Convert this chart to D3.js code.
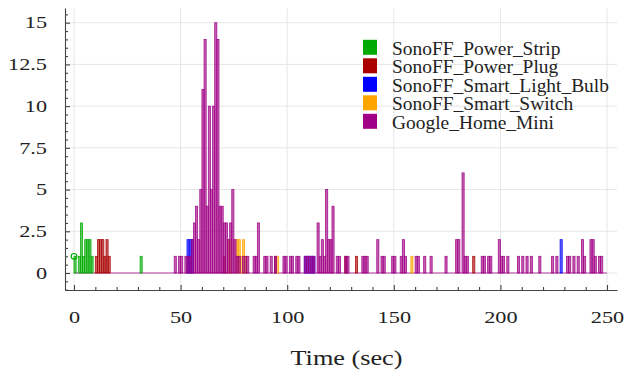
<!DOCTYPE html>
<html>
<head>
<meta charset="utf-8">
<script src="https://cdn.jsdelivr.net/npm/d3@7"></script>
<style>
  body { margin: 0; background: #fff; }
  svg { display: block; }
  text { font-family: "Liberation Serif", "Times New Roman", serif; fill: #222; }
</style>
</head>
<body>
<div id="chart"></div>
<script>
// devices (legend order)
const deviceNames = ["SonoFF_Power_Strip", "SonoFF_Power_Plug", "SonoFF_Smart_Light_Bulb", "SonoFF_Smart_Switch", "Google_Home_Mini"];
const deviceColors = ["#00aa00", "#aa0000", "#0000ff", "#ffa500", "#a00085"];

// packets per 1 s bin
const stripTimes  = [0, 2, 3, 4, 5, 6, 7, 8, 31];
const stripCounts = [1, 1, 3, 1, 2, 2, 2, 1, 1];

const plugTimes  = [10, 11, 12, 13, 14, 15, 16, 70, 80, 94, 127, 132, 187];
const plugCounts = [1, 2, 2, 2, 1, 2, 1, 1, 1, 1, 1, 1, 1];

const bulbTimes  = [53, 54, 55, 108, 109, 110, 111, 112, 228];
const bulbCounts = [2, 2, 2, 1, 1, 1, 1, 1, 2];

const switchTimes  = [72, 73, 76, 77, 78, 79, 95, 158];
const switchCounts = [2, 2, 2, 2, 1, 2, 1, 1];

const homeTimes = [47, 49, 50, 52, 53, 54, 55, 56, 57, 58, 59, 60, 61, 62, 63, 64, 65, 66, 67, 68, 69, 70, 71, 72, 73, 74, 75, 76, 77, 79, 81,
  84, 85, 86, 89, 90, 92, 94, 98, 99, 101, 102, 104, 105, 108, 109, 110, 111, 112, 114, 115, 116, 117, 118, 119, 120, 121, 123, 124,
  127, 128, 135, 136, 137, 142, 144, 145, 149, 150, 153, 154, 155, 160, 161, 164, 167, 174, 179, 180, 182, 183, 184, 191, 192, 194, 195,
  199, 200, 201, 203, 208, 210, 212, 214, 218, 224, 226, 231, 232, 234, 236, 238, 239, 242, 243, 244, 246, 247];
const homeCounts = [1, 1, 1, 1, 1, 1, 2, 3, 4, 2, 5, 11, 14, 4, 10, 5, 10, 15, 14, 4, 4, 3, 3, 2, 3, 5, 2, 1, 1, 1, 1,
  1, 1, 3, 1, 1, 1, 1, 1, 1, 1, 1, 1, 1, 1, 1, 1, 1, 1, 3, 1, 2, 1, 5, 2, 2, 4, 1, 1,
  1, 1, 1, 1, 1, 2, 1, 1, 1, 1, 1, 2, 1, 1, 1, 1, 1, 1, 2, 2, 6, 1, 1, 1, 1, 1, 1,
  2, 1, 1, 1, 1, 1, 1, 1, 1, 1, 1, 1, 1, 1, 1, 2, 1, 2, 2, 1, 1, 1];

// the lone point marker at the start
const markerTimes = [0];
const markerValues = [1];

const xTicks = [0, 50, 100, 150, 200, 250];
const xTickLabels = ["0", "50", "100", "150", "200", "250"];
const yTicks = [0, 2.5, 5, 7.5, 10, 12.5, 15];
const yTickLabels = ["0", "2.5", "5", "7.5", "10", "12.5", "15"];
const xTitle = "Time (sec)";

const seriesTimes = [stripTimes, plugTimes, bulbTimes, switchTimes, homeTimes];
const seriesCounts = [stripCounts, plugCounts, bulbCounts, switchCounts, homeCounts];

const width = 626, height = 380;
const binWidth = 1;

const svg = d3.select("#chart").append("svg")
  .attr("width", width)
  .attr("height", height);

// scales
const x = d3.scaleLinear().domain([0, 250]).range([74, 607]);
const y = d3.scaleLinear().domain([0, 15]).range([273, 22.7]);

// axis frame sits a bit outside the data range
const axisLeftX = 65, axisBottomY = 290;
const xa = x.copy().domain([x.invert(axisLeftX), x.invert(617)]).range([axisLeftX, 617]);
const ya = y.copy().domain([y.invert(axisBottomY), y.invert(8)]).range([axisBottomY, 8]);

// grid
const grid = svg.append("g").attr("stroke", "#e6e6e6").attr("stroke-width", 1);
grid.selectAll("line.gx").data(xTicks).join("line")
  .attr("class", "gx")
  .attr("x1", d => x(d)).attr("x2", d => x(d))
  .attr("y1", ya(ya.domain()[1])).attr("y2", axisBottomY);
grid.selectAll("line.gy").data(yTicks).join("line")
  .attr("class", "gy")
  .attr("x1", axisLeftX).attr("x2", 617)
  .attr("y1", d => y(d)).attr("y2", d => y(d));

// baseline of the histograms
svg.append("line")
  .attr("x1", x(0)).attr("x2", x(250))
  .attr("y1", y(0)).attr("y2", y(0))
  .attr("stroke", deviceColors[4])
  .attr("stroke-opacity", 0.75)
  .attr("stroke-width", 1.2);

// bars
const plot = svg.append("g");
seriesTimes.forEach((times, i) => {
  const data = times.map((t, j) => ({ t: t, c: seriesCounts[i][j] }));
  plot.append("g")
    .selectAll("rect")
    .data(data)
    .join("rect")
    .attr("x", d => x(d.t))
    .attr("y", d => y(d.c))
    .attr("width", x(binWidth) - x(0))
    .attr("height", d => y(0) - y(d.c))
    .attr("fill", deviceColors[i])
    .attr("fill-opacity", 0.62)
    .attr("stroke", deviceColors[i])
    .attr("stroke-opacity", 0.9)
    .attr("stroke-width", 0.8);
});

svg.append("g").selectAll("circle")
  .data(markerTimes.map((t, j) => ({ t: t, v: markerValues[j] })))
  .join("circle")
  .attr("cx", d => x(d.t))
  .attr("cy", d => y(d.v))
  .attr("r", 2.8)
  .attr("fill", "none")
  .attr("stroke", deviceColors[0])
  .attr("stroke-width", 1.2);

// axes
const tickFont = 16.5, tickScale = 1.35;

const gx = svg.append("g").attr("transform", `translate(0,${axisBottomY})`)
  .call(d3.axisBottom(xa)
    .tickValues(xTicks)
    .tickFormat((d, i) => xTickLabels[i])
    .tickSizeInner(-5)
    .tickSizeOuter(0)
    .tickPadding(21));
gx.append("g")
  .call(d3.axisBottom(xa)
    .tickValues(d3.range(10, 251, 10).filter(d => d % 50 !== 0))
    .tickFormat("")
    .tickSizeInner(-3)
    .tickSizeOuter(0))
  .select(".domain").remove();

const gy = svg.append("g").attr("transform", `translate(${axisLeftX},0)`)
  .call(d3.axisLeft(ya)
    .tickValues(yTicks)
    .tickFormat((d, i) => yTickLabels[i])
    .tickSizeInner(-5)
    .tickSizeOuter(0)
    .tickPadding(18));
gy.append("g")
  .call(d3.axisLeft(ya)
    .tickValues(d3.range(-1, 15.6, 0.5).filter(d => d % 2.5 !== 0))
    .tickFormat("")
    .tickSizeInner(-3)
    .tickSizeOuter(0))
  .select(".domain").remove();

[gx, gy].forEach(g => {
  g.selectAll(".domain, line").attr("stroke", "#444").attr("stroke-width", 1.1);
  g.selectAll("text")
    .style("font-family", '"Liberation Serif", "Times New Roman", serif')
    .style("font-size", tickFont + "px")
    .attr("fill", "#222");
});
gx.selectAll(".tick text").attr("transform", `scale(${tickScale},1)`);
gy.selectAll(".tick text")
  .attr("x", -18 / tickScale)
  .attr("transform", `scale(${tickScale},1)`);

// axis title
svg.append("text")
  .attr("transform", `translate(${(x(0) + x(250)) / 2 + 6},365) scale(1.25,1)`)
  .attr("text-anchor", "middle")
  .style("font-size", "21px")
  .text(xTitle);

// legend
const legend = svg.append("g");
const rows = legend.selectAll("g")
  .data(deviceNames)
  .join("g")
  .attr("transform", (d, i) => `translate(363,${47.3 + i * 18.5})`);
rows.append("rect")
  .attr("x", 0).attr("y", -7.5)
  .attr("width", 14).attr("height", 15)
  .attr("fill", (d, i) => deviceColors[i]);
rows.append("text")
  .attr("transform", "translate(29,0) scale(1.08,1)")
  .attr("dy", "0.42em")
  .style("font-size", "18px")
  .text(d => d);
</script>
</body>
</html>
